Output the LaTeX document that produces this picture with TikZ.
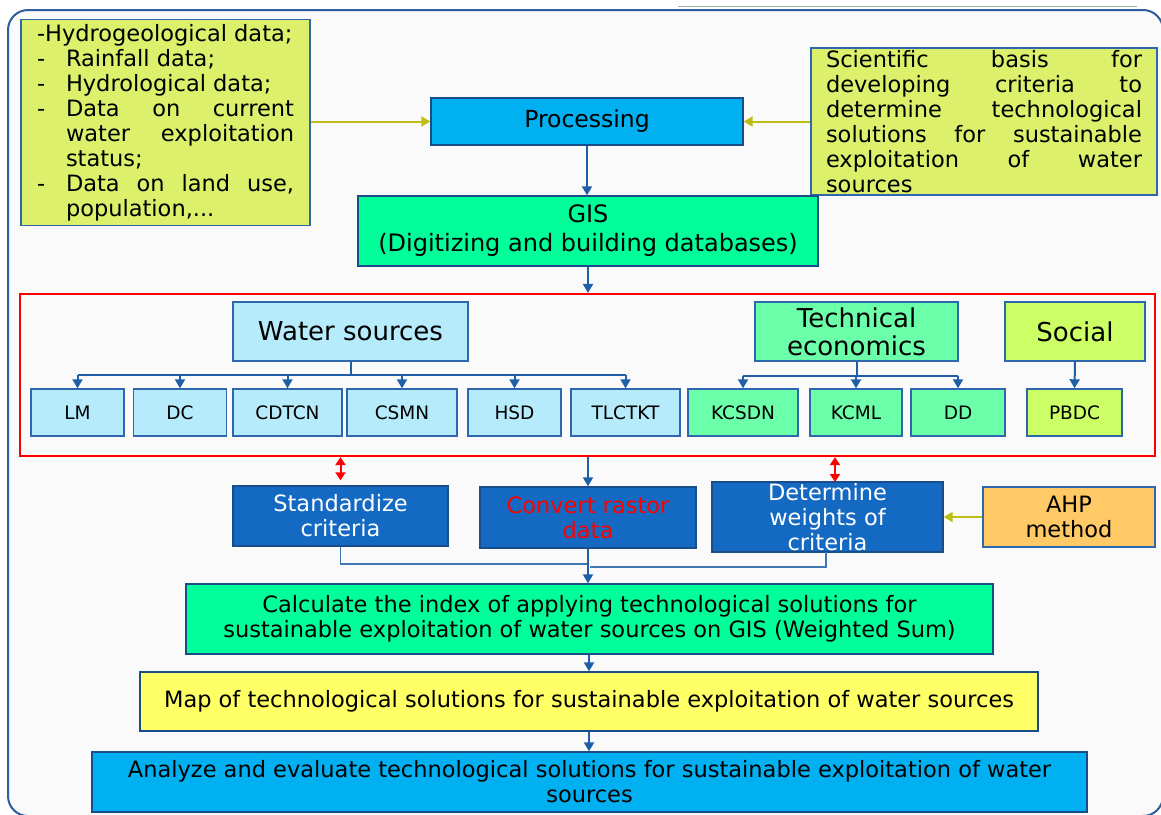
\documentclass[tikz,border=0pt]{standalone}
\usepackage{fontspec}
\setmainfont{DejaVu Sans}
\usetikzlibrary{arrows.meta,calc}
\definecolor{bordc}{HTML}{2E67AE}
\definecolor{darkbord}{HTML}{1A4C8A}
\definecolor{datafill}{HTML}{DCF06C}
\definecolor{procfill}{HTML}{00B0F0}
\definecolor{gisfill}{HTML}{00FF99}
\definecolor{wsfill}{HTML}{B5EBFA}
\definecolor{techfill}{HTML}{6CFFAA}
\definecolor{socfill}{HTML}{CCFF66}
\definecolor{stepfill}{HTML}{1469C2}
\definecolor{ahpfill}{HTML}{FFC966}
\definecolor{mapfill}{HTML}{FFFF66}
\definecolor{arrc}{HTML}{1F5FA8}
\definecolor{olivec}{HTML}{BDBD14}
\definecolor{framec}{HTML}{2E5E9E}
\definecolor{topline}{HTML}{9DB39D}
\begin{document}
\begin{tikzpicture}[x=1pt,y=-1pt,
  box/.style={draw=bordc, line width=1.4pt, inner sep=0pt, align=center, text=black},
  darkbox/.style={box, draw=darkbord, fill=stepfill, text=white},
  small/.style={box, minimum height=47pt, font=\fontsize{18.5}{22}\selectfont},
  big/.style={font=\fontsize{26}{28}\selectfont},
  mid/.style={font=\fontsize{22.5}{25}\selectfont},
  arr/.style={draw=arrc, line width=2pt, -{Triangle[length=9pt,width=10pt]}},
  bus/.style={draw=arrc, line width=2pt},
  thinl/.style={draw=arrc!85!white, line width=1.3pt},
  oarr/.style={draw=olivec, line width=2pt, -{Triangle[length=9pt,width=10pt]}, olivec},
  rarr/.style={draw=red, line width=2pt, {Triangle[length=8pt,width=10pt]}-{Triangle[length=8pt,width=10pt]}, red}
]
\useasboundingbox (0,0) rectangle (1161,814);
\fill[white] (0,0) rectangle (1161,814);
\begin{scope}
\clip (0,0) rectangle (1161,814);
\fill[black!2] (8,10) [rounded corners=20pt] rectangle (1163,816);
\draw[framec, line width=2pt, rounded corners=20pt] (8,10) rectangle (1163,816);
\end{scope}
\draw[topline, line width=1pt] (678,6) -- (1137,6);

% top data boxes
\node[box, fill=datafill, minimum width=289pt, minimum height=206pt, text width=257pt, align=justify,
  font=\fontsize{22.5}{25}\selectfont] (data) at (165.5,122.5) {%
-Hydrogeological data;\par
{\noindent\hangindent=29pt\hangafter=1\makebox[29pt][l]{-}Rainfall data;\par}
{\noindent\hangindent=29pt\hangafter=1\makebox[29pt][l]{-}Hydrological data;\par}
{\noindent\hangindent=29pt\hangafter=1\makebox[29pt][l]{-}Data on current\linebreak water exploitation\linebreak status;\par}
{\noindent\hangindent=29pt\hangafter=1\makebox[29pt][l]{-}Data on land use,\linebreak population,...\par}};

\node[box, fill=datafill, minimum width=346pt, minimum height=147pt, text width=316pt, align=justify,
  font=\fontsize{22.5}{25}\selectfont] (sci) at (984,121.5) {%
Scientific basis for\linebreak developing criteria to\linebreak determine technological\linebreak solutions for sustainable\linebreak exploitation of water\linebreak sources};

\node[box, draw=darkbord, fill=procfill, minimum width=312pt, minimum height=47pt,
  font=\fontsize{23.5}{26}\selectfont] (proc) at (587,121.5) {Processing};
\node[box, draw=darkbord, fill=gisfill, minimum width=460pt, minimum height=70pt,
  font=\fontsize{24}{29}\selectfont] (gis) at (588,231) {GIS\\(Digitizing and building databases)};

% criteria frame
\node[draw=red, line width=2.2pt, minimum width=1135pt, minimum height=162pt, inner sep=0pt] (crit) at (587.5,375) {};

\node[box, big, fill=wsfill, minimum width=235pt, minimum height=59pt] (ws) at (350.5,331.5) {Water sources};
\node[box, big, fill=techfill, minimum width=203pt, minimum height=59pt] (tech) at (856.5,331.5) {Technical\\economics};
\node[box, big, fill=socfill, minimum width=140pt, minimum height=59pt] (soc) at (1075,331.5) {Social};

\node[small, fill=wsfill, minimum width=93pt] (lm) at (77.5,412.5) {LM};
\node[small, fill=wsfill, minimum width=93pt] (dc) at (180,412.5) {DC};
\node[small, fill=wsfill, minimum width=109pt] (cdtcn) at (287.5,412.5) {CDTCN};
\node[small, fill=wsfill, minimum width=110pt] (csmn) at (402,412.5) {CSMN};
\node[small, fill=wsfill, minimum width=93pt] (hsd) at (514.5,412.5) {HSD};
\node[small, fill=wsfill, minimum width=109pt] (tlc) at (625.5,412.5) {TLCTKT};
\node[small, fill=techfill, minimum width=110pt] (kcs) at (743,412.5) {KCSDN};
\node[small, fill=techfill, minimum width=92pt] (kcml) at (856,412.5) {KCML};
\node[small, fill=techfill, minimum width=94pt] (dd) at (958,412.5) {DD};
\node[small, fill=socfill, minimum width=95pt] (pbdc) at (1074.5,412.5) {PBDC};

% step boxes
\node[darkbox, mid, minimum width=215pt, minimum height=60pt] (std) at (340.5,516) {Standardize\\criteria};
\node[darkbox, mid, minimum width=216pt, minimum height=61pt, text=red] (conv) at (588,517.5) {Convert rastor\\data};
\node[darkbox, mid, minimum width=231pt, minimum height=70pt] (det) at (827.5,517) {Determine\\weights of\\criteria};
\node[box, mid, fill=ahpfill, minimum width=172pt, minimum height=60pt] (ahp) at (1069,517) {AHP\\method};

\node[box, mid, draw=darkbord, fill=gisfill, minimum width=807pt, minimum height=70pt] (calc) at (589.5,619) {Calculate the index of applying technological solutions for\\sustainable exploitation of water sources on GIS (Weighted Sum)};
\node[box, mid, draw=darkbord, fill=mapfill, minimum width=898pt, minimum height=59pt] (map) at (589,701.5) {Map of technological solutions for sustainable exploitation of water sources};
\node[box, mid, draw=darkbord, fill=procfill, minimum width=995pt, minimum height=60pt] (ana) at (589.5,782) {Analyze and evaluate technological solutions for sustainable exploitation of water\\sources};

% connectors top
\draw[oarr] (data.east |- proc.west) -- (proc.west);
\draw[oarr] (sci.west |- proc.east) -- (proc.east);
\draw[arr] (proc.south) -- (proc.south |- gis.north);
\draw[arr] (gis.south) -- (gis.south |- crit.north);

% water sources bus
\coordinate (wsb) at (350.5,375);
\draw[bus] (ws.south) -- (wsb);
\draw[bus] (lm.north |- wsb) -- (tlc.north |- wsb);
\foreach \n in {lm,dc,cdtcn,csmn,hsd,tlc}{\draw[arr] (\n.north |- wsb) -- (\n.north);}
% technical bus
\coordinate (teb) at (856.5,376);
\draw[bus] (tech.south) -- (teb);
\draw[bus] (kcs.north |- teb) -- (dd.north |- teb);
\foreach \n in {kcs,kcml,dd}{\draw[arr] (\n.north |- teb) -- (\n.north);}
\draw[arr] (soc.south) -- (pbdc.north);

% frame to steps
\draw[rarr] (std.north |- crit.south) -- ([yshift=5pt]std.north);
\coordinate (ra) at (835,482);
\draw[rarr] (ra |- crit.south) -- (ra);
\draw[arr] (conv.north |- crit.south) -- (conv.north);
\draw[oarr] (ahp.west) -- (ahp.west -| det.east);

% merge
\coordinate (j1) at (588,564);
\coordinate (j2) at (590,567);
\coordinate (dj) at (826,552);
\draw[thinl] (std.south) |- (j1);
\draw[thinl] (dj) |- (j2);
\draw[arr] (conv.south) -- (conv.south |- calc.north);
\draw[arr] (calc.south -| map.north) -- (map.north);
\draw[arr] (map.south) -- (map.south |- ana.north);
\end{tikzpicture}
\end{document}
